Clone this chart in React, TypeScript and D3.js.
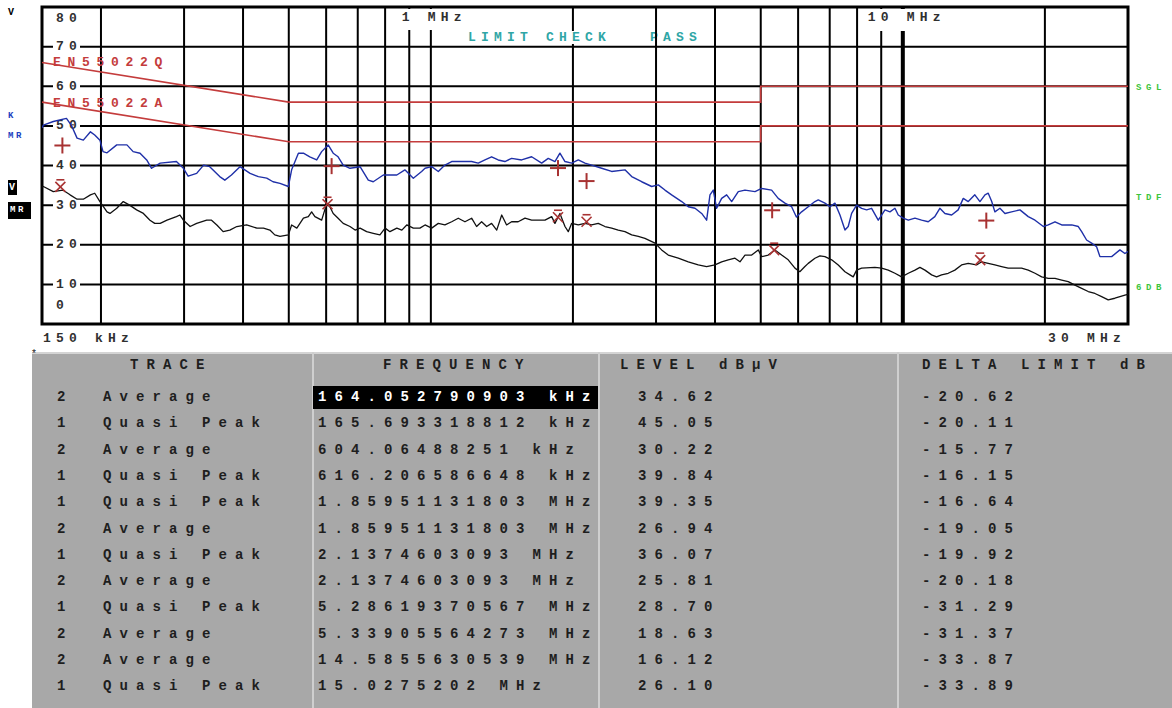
import React from 'react';
import * as d3 from 'd3';

// Conducted emission scan, 150 kHz - 30 MHz. Frequency in MHz, level in dBµV.
const peakTrace: [number, number][] = [
  [0.15, 49.5], [0.151, 50.2], [0.1585, 51.1], [0.169, 51.9], [0.173, 50.2], [0.178, 46.9], [0.1835, 46.4],
  [0.19, 48.5], [0.194, 47.7], [0.199, 46.4], [0.202, 43.5], [0.206, 43.2], [0.216, 45.2], [0.227, 45.2],
  [0.234, 43.5], [0.242, 43.1], [0.25, 41.4], [0.256, 39.3], [0.267, 40.6], [0.289, 41.0], [0.299, 39.3],
  [0.306, 37.3], [0.319, 38.0], [0.33, 40.1], [0.34, 39.7], [0.357, 37.2], [0.366, 36.3], [0.378, 37.6],
  [0.394, 39.7], [0.414, 38.0], [0.431, 37.2], [0.449, 36.8], [0.463, 35.9], [0.479, 35.5], [0.499, 34.7],
  [0.507, 38.9], [0.524, 43.1], [0.537, 43.1], [0.554, 42.2], [0.573, 41.4], [0.587, 43.5], [0.606, 45.2],
  [0.621, 43.1], [0.636, 42.2], [0.652, 40.1], [0.674, 39.3], [0.708, 39.7], [0.737, 36.3], [0.755, 35.9],
  [0.793, 37.6], [0.847, 37.6], [0.881, 38.9], [0.918, 36.8], [0.956, 38.5], [0.972, 39.3], [1.004, 39.7],
  [1.037, 38.5], [1.071, 40.1], [1.107, 41.0], [1.22, 41.0], [1.26, 40.6], [1.302, 41.4], [1.345, 42.2],
  [1.389, 41.4], [1.435, 41.0], [1.483, 41.8], [1.557, 41.4], [1.635, 42.2], [1.717, 40.6], [1.773, 41.8],
  [1.832, 41.0], [1.877, 43.1], [1.924, 41.0], [1.988, 40.6], [2.053, 41.4], [2.121, 40.6], [2.191, 40.1],
  [2.301, 39.3], [2.416, 38.5], [2.578, 38.9], [2.664, 37.2], [2.797, 35.9], [2.937, 34.7], [3.033, 35.1],
  [3.133, 33.8], [3.237, 32.6], [3.4, 30.9], [3.511, 29.6], [3.628, 29.2], [3.748, 27.9], [3.84, 26.2],
  [3.903, 32.6], [3.966, 33.8], [4.032, 29.2], [4.132, 31.7], [4.234, 32.6], [4.339, 30.9], [4.481, 33.4],
  [4.63, 33.8], [4.862, 33.4], [5.022, 34.2], [5.273, 33.8], [5.445, 31.7], [5.626, 30.5], [5.813, 29.6],
  [5.95, 27.0], [6.103, 28.3], [6.304, 29.6], [6.513, 30.9], [6.619, 31.3], [6.839, 30.5], [7.008, 29.6],
  [7.181, 30.5], [7.359, 27.5], [7.541, 23.7], [7.662, 24.6], [7.79, 27.9], [7.982, 30.0], [8.179, 29.2],
  [8.381, 28.8], [8.588, 29.2], [8.87, 26.2], [9.018, 27.5], [9.165, 28.8], [9.391, 28.3], [9.623, 29.2],
  [9.779, 27.5], [10.02, 26.7], [10.27, 26.2], [10.61, 26.7], [10.96, 26.2], [11.32, 25.8], [11.69, 27.1],
  [11.98, 29.2], [12.28, 27.9], [12.69, 27.5], [13.1, 28.8], [13.43, 31.7], [13.76, 30.9], [14.21, 32.6],
  [14.57, 30.9], [14.93, 32.6], [15.17, 33.0], [15.43, 30.9], [15.67, 28.3], [16.06, 29.2], [16.46, 27.9],
  [17.0, 28.3], [17.71, 28.8], [18.44, 27.1], [19.06, 26.2], [19.85, 24.6], [20.33, 25.0], [21.01, 25.8],
  [21.71, 25.0], [22.8, 25.0], [23.54, 24.6], [23.93, 23.3], [24.51, 21.2], [25.12, 20.4], [25.74, 19.5],
  [26.16, 17.0], [27.7, 17.0], [28.84, 18.7], [29.55, 17.8], [30.0, 18.3],
];

const averageTrace: [number, number][] = [
  [0.15, 34.5], [0.151, 34.7], [0.1585, 33.4], [0.166, 33.8], [0.172, 32.6], [0.178, 31.5], [0.1835, 31.5],
  [0.19, 32.6], [0.194, 33.0], [0.199, 30.9], [0.206, 28.3], [0.209, 27.9], [0.216, 29.2], [0.223, 30.9],
  [0.23, 30.0], [0.238, 28.8], [0.246, 27.9], [0.254, 26.2], [0.26, 25.4], [0.267, 25.4], [0.276, 26.2],
  [0.289, 27.1], [0.294, 27.5], [0.299, 26.2], [0.309, 24.6], [0.319, 25.4], [0.335, 26.2], [0.343, 26.2],
  [0.352, 25.0], [0.363, 23.3], [0.375, 23.7], [0.388, 24.6], [0.407, 25.0], [0.428, 24.2], [0.442, 24.2],
  [0.456, 23.7], [0.467, 22.5], [0.479, 22.1], [0.499, 22.5], [0.507, 25.0], [0.52, 24.2], [0.537, 26.7],
  [0.55, 27.1], [0.559, 28.3], [0.568, 27.1], [0.587, 26.2], [0.602, 30.5], [0.611, 29.6], [0.621, 27.9],
  [0.636, 26.7], [0.652, 25.4], [0.674, 24.6], [0.691, 23.7], [0.708, 24.2], [0.731, 23.3], [0.755, 22.9],
  [0.78, 22.5], [0.8, 24.2], [0.819, 23.3], [0.847, 24.2], [0.868, 23.7], [0.889, 25.0], [0.918, 24.2],
  [0.948, 24.2], [0.972, 25.0], [1.004, 24.2], [1.037, 25.4], [1.071, 25.0], [1.107, 25.8], [1.143, 26.7],
  [1.181, 25.8], [1.22, 26.7], [1.25, 24.6], [1.281, 25.8], [1.313, 24.6], [1.345, 25.4], [1.379, 23.7],
  [1.413, 27.5], [1.447, 25.0], [1.483, 25.8], [1.531, 25.8], [1.583, 26.7], [1.635, 26.2], [1.745, 26.2],
  [1.803, 27.1], [1.832, 25.4], [1.877, 27.9], [1.924, 24.6], [1.955, 23.3], [1.988, 25.4], [2.053, 25.0],
  [2.121, 25.4], [2.191, 25.0], [2.263, 25.4], [2.338, 24.6], [2.416, 24.2], [2.495, 23.7], [2.578, 23.3],
  [2.664, 22.5], [2.751, 22.1], [2.842, 21.6], [2.985, 20.4], [3.083, 18.7], [3.184, 17.4], [3.344, 16.6],
  [3.511, 15.7], [3.686, 14.9], [3.84, 14.5], [3.999, 14.9], [4.132, 15.7], [4.267, 16.2], [4.409, 16.6],
  [4.518, 15.7], [4.63, 17.4], [4.784, 17.4], [4.94, 18.7], [5.022, 17.0], [5.186, 17.4], [5.358, 18.7],
  [5.537, 17.4], [5.717, 16.2], [5.908, 14.1], [6.05, 13.2], [6.202, 14.5], [6.304, 15.3], [6.513, 16.6],
  [6.674, 17.2], [6.839, 17.0], [7.066, 16.2], [7.298, 14.9], [7.541, 13.2], [7.727, 12.4], [7.851, 11.9],
  [7.982, 13.6], [8.179, 14.1], [8.728, 14.3], [9.018, 14.1], [9.314, 13.6], [9.623, 12.8], [9.942, 11.9],
  [10.27, 12.8], [10.61, 13.6], [10.87, 14.3], [11.14, 13.6], [11.51, 12.4], [11.79, 11.9], [12.08, 12.4],
  [12.48, 12.8], [12.89, 13.6], [13.32, 14.9], [13.76, 15.3], [14.33, 14.9], [14.69, 15.7], [15.17, 15.3],
  [15.67, 14.9], [16.19, 14.5], [16.72, 14.1], [17.85, 14.1], [18.44, 13.6], [19.06, 12.8], [19.69, 11.9],
  [20.33, 11.5], [21.01, 11.5], [21.71, 11.1], [22.41, 10.7], [23.16, 9.8], [23.93, 9.0], [24.71, 8.2],
  [25.53, 7.7], [26.38, 6.9], [27.24, 6.1], [28.14, 6.5], [28.84, 6.9], [29.55, 7.3], [30.0, 7.5],
];

// EN 55022 class B limit lines
const limitQuasiPeak: [number, number][] = [[0.15, 66], [0.5, 56], [5, 56], [5, 60], [30, 60]];
const limitAverage: [number, number][] = [[0.15, 56], [0.5, 46], [5, 46], [5, 50], [30, 50]];

const levelTicks = [80, 70, 60, 50, 40, 30, 20, 10, 0];
const gridLevels = [10, 20, 30, 40, 50, 60, 70];
const gridFreqs = [0.2, 0.3, 0.4, 0.5, 0.6, 0.7, 0.8, 0.9, 1, 2, 3, 4, 5, 6, 7, 8, 9, 10, 20];

// Peak list
const rowTraceNo = [2, 1, 2, 1, 1, 2, 1, 2, 1, 2, 2, 1];
const rowDetector = ['Average', 'Quasi Peak', 'Average', 'Quasi Peak', 'Quasi Peak', 'Average',
  'Quasi Peak', 'Average', 'Quasi Peak', 'Average', 'Average', 'Quasi Peak'];
const rowFreqText = ['164.052790903 kHz', '165.693318812 kHz', '604.06488251 kHz', '616.206586648 kHz',
  '1.85951131803 MHz', '1.85951131803 MHz', '2.1374603093 MHz', '2.1374603093 MHz', '5.28619370567 MHz',
  '5.33905564273 MHz', '14.5855630539 MHz', '15.0275202 MHz'];
const rowFreqMHz = [0.164052790903, 0.165693318812, 0.60406488251, 0.616206586648, 1.85951131803,
  1.85951131803, 2.1374603093, 2.1374603093, 5.28619370567, 5.33905564273, 14.5855630539, 15.0275202];
const rowLevel = [34.62, 45.05, 30.22, 39.84, 39.35, 26.94, 36.07, 25.81, 28.70, 18.63, 16.12, 26.10];
const rowDelta = [-20.62, -20.11, -15.77, -16.15, -16.64, -19.05, -19.92, -20.18, -31.29, -31.37, -33.87, -33.89];

const W = 1172;
const H = 708;
const MONO = "'Liberation Mono', 'DejaVu Sans Mono', monospace";

const x = d3.scaleLog().domain([0.15, 30]).range([42, 1128]);
const y = d3.scaleLinear().domain([0, 80]).range([324, 7]);

const line = d3.line<[number, number]>().x((d) => x(d[0])).y((d) => y(d[1]));

const TEXT = '#303030';
const LIMIT = '#c43c3c';
const MARK = '#a83232';

function PlotText(props: { x: number; y: number; children: React.ReactNode; fill?: string; size?: number; pitch?: number; anchor?: string }) {
  const size = props.size ?? 13;
  const pitch = props.pitch ?? 13;
  return (
    <text x={props.x} y={props.y} fontFamily={MONO} fontWeight="bold" fontSize={size}
      letterSpacing={pitch - size * 0.6} fill={props.fill ?? TEXT} dominantBaseline="central"
      textAnchor={props.anchor ?? 'start'}>
      {props.children}
    </text>
  );
}

function Chart() {
  const top = y(80);
  const bottom = y(0);
  const left = x(0.15);
  const right = x(30);
  const rowY = (i: number) => 397 + 26.3 * i;
  const tableTop = 352;
  const tablePitch = 16.5;
  const tableSize = 14;
  const cellText = (tx: number, ty: number, s: string, fill = '#1e1e1e') => (
    <text x={tx} y={ty} fontFamily={MONO} fontWeight="bold" fontSize={tableSize}
      letterSpacing={tablePitch - tableSize * 0.6} fill={fill} dominantBaseline="central">{s}</text>
  );

  return (
    <svg width={W} height={H} viewBox={`0 0 ${W} ${H}`} style={{ display: 'block' }}>
      <defs>
        <clipPath id="plot-clip">
          <rect x={left} y={top} width={right - left} height={bottom - top} />
        </clipPath>
      </defs>
      <rect x={0} y={0} width={W} height={H} fill="#ffffff" />

      <PlotText x={650} y={37} fill="#2fa6a6">PASS</PlotText>

      {/* grid */}
      {gridFreqs.map((f) => (
        <line key={`v${f}`} x1={x(f)} x2={x(f)} y1={top} y2={bottom}
          stroke="#000" strokeWidth={f === 10 ? 4 : 2} />
      ))}
      {gridLevels.map((v) => (
        <line key={`h${v}`} x1={left} x2={right} y1={y(v)} y2={y(v)} stroke="#000" strokeWidth={2} />
      ))}
      <rect x={left} y={top} width={right - left} height={bottom - top} fill="none" stroke="#000" strokeWidth={3} />

      {/* frequency markers at the top */}
      <rect x={x(1) - 33} y={top + 2} width={68} height={21} fill="#fff" />
      <PlotText x={x(1) - 29} y={17}>1 MHz</PlotText>
      <rect x={x(10) - 39} y={top + 2} width={82} height={22} fill="#fff" />
      <PlotText x={x(10) - 35} y={17}>10 MHz</PlotText>
      <rect x={465} y={31} width={146} height={13} fill="#fff" />
      <PlotText x={468} y={37} fill="#2fa6a6">LIMIT CHECK</PlotText>

      {/* level labels */}
      {levelTicks.map((v) => {
        const ly = v === 80 ? y(80) + 11 : v === 0 ? y(0) - 19 : y(v);
        return (
          <g key={`l${v}`}>
            {v !== 80 && v !== 0 && <rect x={53} y={ly - 6} width={27} height={12} fill="#fff" />}
            <PlotText x={56} y={ly}>{String(v)}</PlotText>
          </g>
        );
      })}

      {/* limit lines */}
      <path d={line(limitQuasiPeak) ?? ''} fill="none" stroke={LIMIT} strokeWidth={1.6} />
      <path d={line(limitAverage) ?? ''} fill="none" stroke={LIMIT} strokeWidth={1.6} />
      <PlotText x={53} y={y(66) + 0.5} fill={LIMIT} pitch={14.5}>EN55022Q</PlotText>
      <PlotText x={53} y={y(56) + 1} fill={LIMIT} pitch={14.5}>EN55022A</PlotText>

      {/* traces */}
      <g clipPath="url(#plot-clip)">
        <path d={line(averageTrace) ?? ''} fill="none" stroke="#111" strokeWidth={1.3} strokeLinejoin="round" />
        <path d={line(peakTrace) ?? ''} fill="none" stroke="#1f30a8" strokeWidth={1.4} strokeLinejoin="round" />
      </g>

      {/* peak markers */}
      {rowFreqMHz.map((f, i) => {
        const cx = x(f);
        const cy = y(rowLevel[i]);
        if (rowDetector[i] === 'Quasi Peak') {
          return (
            <g key={`m${i}`} stroke={MARK} strokeWidth={2}>
              <line x1={cx - 8} x2={cx + 8} y1={cy} y2={cy} />
              <line x1={cx} x2={cx} y1={cy - 8} y2={cy + 8} />
            </g>
          );
        }
        return (
          <g key={`m${i}`} stroke={MARK} strokeWidth={1.6}>
            <line x1={cx - 5} x2={cx + 5} y1={cy - 5} y2={cy + 5} />
            <line x1={cx + 5} x2={cx - 5} y1={cy - 5} y2={cy + 5} />
            <line x1={cx - 4} x2={cx + 4} y1={cy - 7} y2={cy - 7} />
          </g>
        );
      })}

      {/* side annotations */}
      <PlotText x={8} y={12} size={10} pitch={8} fill="#000">V</PlotText>
      <PlotText x={8} y={116} size={9} pitch={8} fill="#2040c0">K</PlotText>
      <PlotText x={8} y={136} size={9} pitch={8} fill="#2040c0">MR</PlotText>
      <rect x={8} y={180} width={9} height={15} fill="#000" />
      <PlotText x={9} y={187} size={10} pitch={8} fill="#fff">V</PlotText>
      <rect x={8} y={202} width={23} height={17} fill="#000" />
      <PlotText x={10} y={210} size={9} pitch={8} fill="#fff">MR</PlotText>
      <PlotText x={1136} y={88} size={9} pitch={10} fill="#3cc43c">SGL</PlotText>
      <PlotText x={1136} y={198} size={9} pitch={10} fill="#3cc43c">TDF</PlotText>
      <PlotText x={1136} y={288} size={9} pitch={10} fill="#3cc43c">6DB</PlotText>

      <PlotText x={43} y={338}>150 kHz</PlotText>
      <PlotText x={1048} y={338}>30 MHz</PlotText>

      {/* peak list table */}
      <rect x={32} y={tableTop} width={W - 32} height={H - tableTop} fill="#a8a8a8" />
      <line x1={32} x2={W} y1={tableTop + 1} y2={tableTop + 1} stroke="#d4d4d4" strokeWidth={2} />
      {[313, 599, 898].map((sx) => (
        <line key={`s${sx}`} x1={sx} x2={sx} y1={tableTop} y2={H} stroke="#cfcfcf" strokeWidth={2} />
      ))}
      <text x={31} y={357} fontFamily={MONO} fontSize={10} fill="#222">*</text>
      {cellText(130, 365, 'TRACE')}
      {cellText(383, 365, 'FREQUENCY')}
      {cellText(620, 365, 'LEVEL dBµV')}
      {cellText(922, 365, 'DELTA LIMIT dB')}
      <rect x={313} y={rowY(0) - 11} width={285} height={23} fill="#000" />
      {rowTraceNo.map((n, i) => (
        <g key={`r${i}`}>
          {cellText(57, rowY(i), String(n))}
          {cellText(103, rowY(i), rowDetector[i])}
          {cellText(318, rowY(i), rowFreqText[i], i === 0 ? '#ffffff' : '#1e1e1e')}
          {cellText(638, rowY(i), rowLevel[i].toFixed(2))}
          {cellText(922, rowY(i), rowDelta[i].toFixed(2))}
        </g>
      ))}
    </svg>
  );
}

export default function App() {
  return (
    <div style={{ position: 'absolute', left: 0, top: 0, width: W, height: H, background: '#fff' }}>
      <Chart />
    </div>
  );
}
